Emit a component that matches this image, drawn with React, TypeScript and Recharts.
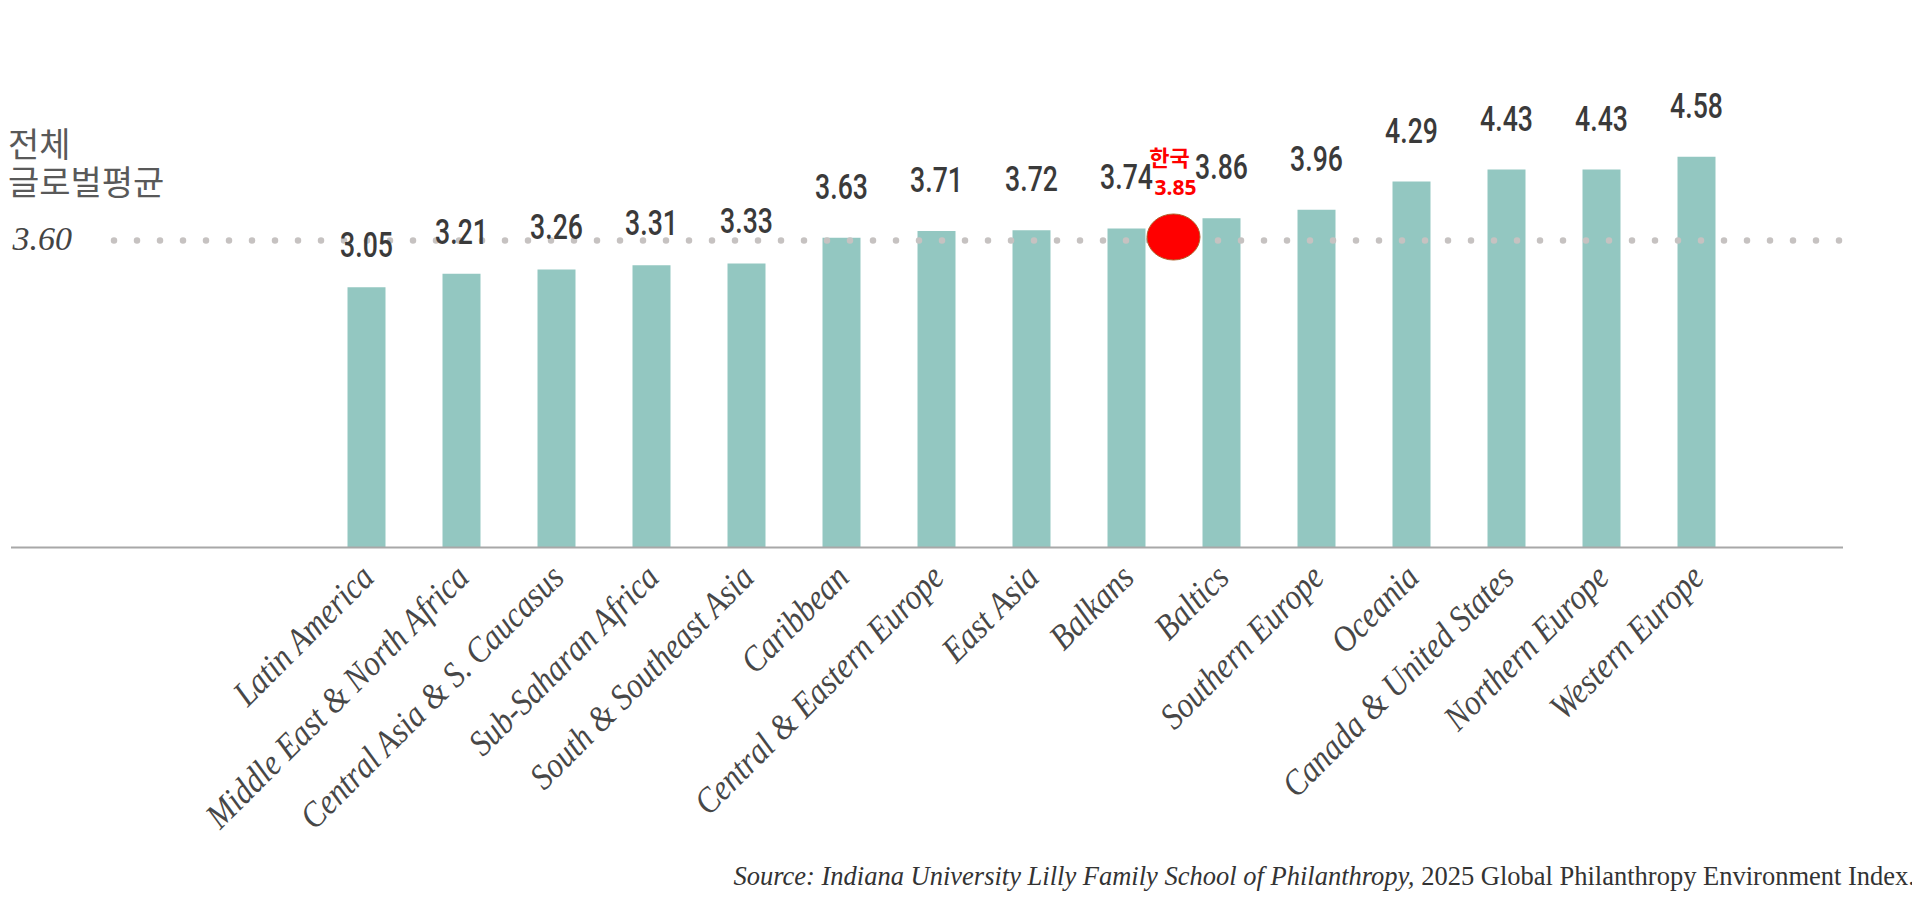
import React from "react";
import {
  BarChart,
  Bar,
  XAxis,
  YAxis,
  ReferenceLine,
  ReferenceDot,
  LabelList
} from "recharts";

// Global Philanthropy Environment Index, regional averages
const regions = [
  "Latin America",
  "Middle East & North Africa",
  "Central Asia & S. Caucasus",
  "Sub-Saharan Africa",
  "South & Southeast Asia",
  "Caribbean",
  "Central & Eastern Europe",
  "East Asia",
  "Balkans",
  "Baltics",
  "Southern Europe",
  "Oceania",
  "Canada & United States",
  "Northern Europe",
  "Western Europe"
];
const scores = [3.05, 3.21, 3.26, 3.31, 3.33, 3.63, 3.71, 3.72, 3.74, 3.86, 3.96, 4.29, 4.43, 4.43, 4.58];

const globalAverage = 3.6;
const averageTitle = ["전체", "글로벌평균"];

// Korea marker sits right after Balkans (between Balkans and Baltics), on the average line
const koreaName = "한국";
const koreaScore = 3.85;
const koreaAfter = "Balkans";
const koreaMarkerLevel = 3.64;

const yDomain = [0, 5];

const data = regions.map((region, i) => ({ region, score: scores[i] }));

const BAR_COLOR = "#93c7c1";
const DOT_COLOR = "#c6c2c1";

const CHART_W = 1904;
const CHART_H = 890;
const MARGIN = { top: 113, right: 69, bottom: 0, left: 3 };
const PAD = { left: 307.5, right: 99.5 };
const plotW = CHART_W - MARGIN.left - MARGIN.right;
const band = (plotW - PAD.left - PAD.right) / regions.length;

const ValueLabel = (props: any) => {
  const { x, y, width, value } = props;
  const gap = value < 3.5 ? 30 : 39;
  return (
    <text
      transform={`translate(${x + width / 2},${y - gap}) scale(0.74,1)`}
      textAnchor="middle"
      fontFamily="Roboto, 'Noto Sans', sans-serif"
      fontWeight={500}
      fontSize={36}
      fill="#3a3a3a"
    >
      {value.toFixed(2)}
    </text>
  );
};

const RegionTick = (props: any) => {
  const { x, y, payload } = props;
  return (
    <text
      transform={`translate(${x + 10},${y + 32}) rotate(-45) scale(0.88,1)`}
      textAnchor="end"
      fontFamily="'Liberation Serif', 'Times New Roman', serif"
      fontStyle="italic"
      fontSize={36}
      fill="#474747"
    >
      {payload.value}
    </text>
  );
};

// "3.60" at the left end of the dotted line; the white block keeps the dots clear of it
const AverageLabel = (props: any) => {
  const { viewBox } = props;
  const { x, y } = viewBox;
  return (
    <g>
      <rect x={x - 3} y={y - 14} width={100} height={28} fill="#ffffff" />
      <text
        x={x + 1.5}
        y={y + 10}
        fontFamily="'Liberation Serif', 'Times New Roman', serif"
        fontStyle="italic"
        fontSize={34}
        fill="#444444"
      >
        {globalAverage.toFixed(2)}
      </text>
    </g>
  );
};

const KoreaMarker = (props: any) => {
  const { cy } = props;
  const cx = props.cx + band / 2;
  return (
    <g>
      <ellipse cx={cx} cy={cy} rx={26.5} ry={23} fill="#ff0000" stroke="#b0602a" strokeWidth={1} />
      <text
        x={cx - 4}
        y={cy - 71}
        textAnchor="middle"
        fontFamily="'Noto Sans CJK KR', 'Noto Sans', sans-serif"
        fontWeight={700}
        fontSize={22}
        fill="#ff0000"
      >
        {koreaName}
      </text>
      <text
        x={cx + 2}
        y={cy - 42}
        textAnchor="middle"
        fontFamily="'Noto Sans', sans-serif"
        fontWeight={700}
        fontSize={21}
        fill="#ff0000"
      >
        {koreaScore.toFixed(2)}
      </text>
    </g>
  );
};

export default function App() {
  return (
    <div style={{ position: "relative", width: CHART_W, height: CHART_H }}>
      <div
        style={{
          position: "absolute",
          left: 0,
          top: 116,
          fontFamily: "'Noto Sans CJK KR', sans-serif",
          fontSize: 34,
          lineHeight: "38px",
          color: "#595959"
        }}
      >
        {averageTitle.map((line) => (
          <div key={line}>{line}</div>
        ))}
      </div>

      <BarChart width={CHART_W} height={CHART_H} data={data} margin={MARGIN}>
        <XAxis
          dataKey="region"
          interval={0}
          padding={PAD}
          height={350.5}
          tickLine={false}
          tickSize={0}
          tickMargin={0}
          axisLine={{ stroke: "#a8a8a8", strokeWidth: 2 }}
          tick={<RegionTick />}
        />
        <YAxis domain={yDomain} hide />
        <ReferenceLine
          y={globalAverage}
          stroke={DOT_COLOR}
          strokeWidth={6.5}
          strokeLinecap="round"
          strokeDasharray="0 23"
          strokeDashoffset={12}
          label={<AverageLabel />}
        />
        <Bar dataKey="score" fill={BAR_COLOR} barSize={38} isAnimationActive={false}>
          <LabelList dataKey="score" content={<ValueLabel />} />
        </Bar>
        <ReferenceDot
          x={koreaAfter}
          y={koreaMarkerLevel}
          ifOverflow="visible"
          shape={<KoreaMarker />}
        />
      </BarChart>

      <div
        style={{
          position: "absolute",
          right: -3,
          top: 853,
          whiteSpace: "nowrap",
          fontFamily: "'Liberation Serif', 'Times New Roman', serif",
          fontSize: 26.5,
          color: "#333333"
        }}
      >
        <i>Source: Indiana University Lilly Family School of Philanthropy,</i> 2025 Global Philanthropy
        Environment Index.
      </div>
    </div>
  );
}
